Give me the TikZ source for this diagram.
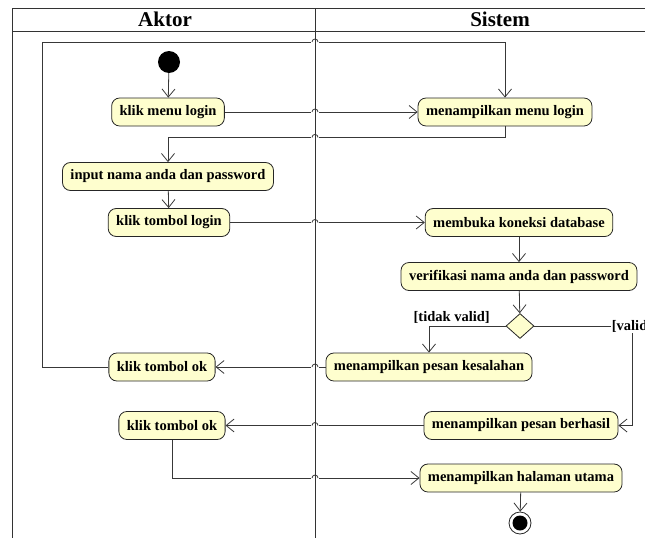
\documentclass[tikz,border=0pt]{standalone}
\usepackage{fontspec}
\setmainfont{Liberation Serif}
\usetikzlibrary{shapes.geometric, arrows.meta, calc}
\definecolor{actfill}{RGB}{254,254,206}
\definecolor{flowgray}{RGB}{56,56,56}

\newcommand{\linehop}[1]{%
  \fill[white] ($(#1)+(-3.6,-1.3)$) rectangle ($(#1)+(3.6,1.3)$);
  \draw[flowgray, line width=0.8pt] ($(#1)+(-3,0)$) arc (180:360:3);}

\begin{document}
\begin{tikzpicture}[x=1pt, y=-1pt,
    act/.style={draw=black!85, fill=actfill, rounded corners=8pt, line width=0.8pt, minimum height=28pt, inner xsep=8pt, inner ysep=0pt, font=\fontsize{14.5}{16}\selectfont\bfseries},
    flow/.style={draw=flowgray, line width=0.8pt, -{Straight Barb[length=8pt,width=13pt]}},
    guard/.style={inner sep=1pt, font=\fontsize{14.5}{16}\selectfont\bfseries},
    lanehead/.style={font=\fontsize{21}{24}\selectfont\bfseries},
    laneline/.style={draw=black!80, line width=1pt}]
  \useasboundingbox (0,0) rectangle (645,538);

  % swimlane headers
  \node[lanehead] at (165,19) (aktor) {Aktor};
  \node[lanehead] at (500,19) (sistem) {Sistem};
  \coordinate (lane) at (315,0);

  % actions
  \node[circle, fill=black, minimum size=22pt, inner sep=0pt] at (169,62) (start) {};
  \node[act] at (168,112) (klikmenu) {klik menu login};
  \node[act] at (505,112) (menulogin) {menampilkan menu login};
  \node[act] at (168,176.5) (input) {input nama anda dan password};
  \node[act] at (169,222.5) (kliklogin) {klik tombol login};
  \node[act] at (519,222.5) (koneksi) {membuka koneksi database};
  \node[act] at (519,276.5) (verifikasi) {verifikasi nama anda dan password};
  \node[diamond, draw=black!85, fill=actfill, line width=0.8pt, minimum width=28pt, minimum height=25pt, inner sep=0pt] at (520,326) (cek) {};
  \node[act] at (429,367) (gagal) {menampilkan pesan kesalahan};
  \node[act] at (162,367) (okgagal) {klik tombol ok};
  \node[act] at (521,425.5) (berhasil) {menampilkan pesan berhasil};
  \node[act] at (172,425.5) (okberhasil) {klik tombol ok};
  \node[act] at (521,478) (utama) {menampilkan halaman utama};
  \node[circle, draw=black!85, fill=white, line width=0.8pt, minimum size=22pt, inner sep=0pt] at (520,523) (akhir) {};
  \fill (akhir) circle (7.5);

  % flows
  \coordinate (menubend) at ($(menulogin.south)+(0,11)$);
  \coordinate (looptop) at (42,42);
  \coordinate (validbend) at (632,326);
  \draw[flow] (start) -- (klikmenu);
  \draw[flow] (klikmenu) -- (menulogin);
  \draw[flow] (menulogin.south) -- (menubend) -| (input.north);
  \draw[flow] (input) -- (kliklogin);
  \draw[flow] (kliklogin) -- (koneksi);
  \draw[flow] (koneksi) -- (verifikasi);
  \draw[flow] (verifikasi) -- (cek);
  \draw[flow] (cek.west) -| (gagal.north);
  \draw[flow] (cek.east) -- (validbend) |- (berhasil.east);
  \draw[flow] (gagal) -- (okgagal);
  \draw[flow] (okgagal.west) -| (looptop) -| (menulogin.north);
  \draw[flow] (berhasil) -- (okberhasil);
  \draw[flow] (okberhasil.south) |- (utama.west);
  \draw[flow] (utama) -- (akhir);

  \node[guard, anchor=south east] at (491,325) (tidakvalid) {[tidak valid]};
  \node[guard, fill=white] at (validbend) (valid) {[valid]};

  % jumps over the lane divider
  \linehop{lane |- looptop}
  \linehop{lane |- klikmenu}
  \linehop{lane |- menubend}
  \linehop{lane |- kliklogin}
  \linehop{lane |- gagal}
  \linehop{lane |- berhasil}
  \linehop{lane |- utama.west}

  % swimlane frame
  \draw[laneline] (645,8) -- (12,8) -- (12,538);
  \draw[laneline] (12,31) -- (645,31);
  \draw[laneline] (315,8) -- (315,538);
\end{tikzpicture}
\end{document}
